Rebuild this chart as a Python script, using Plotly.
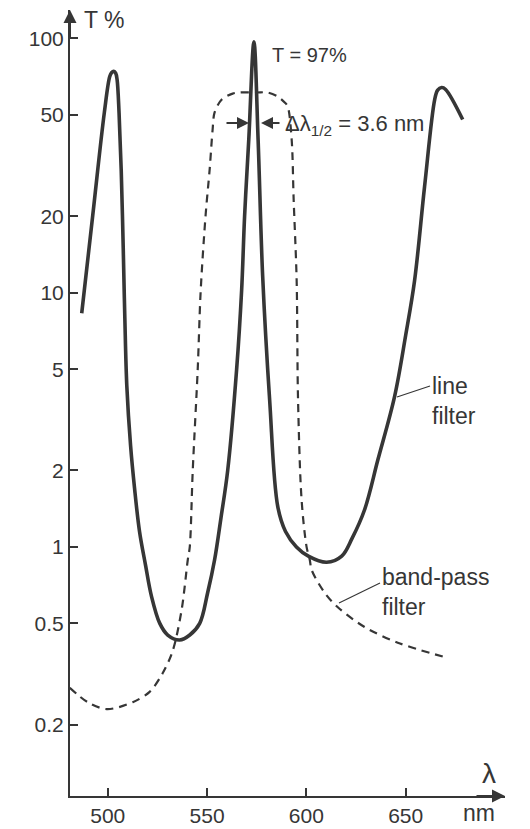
import plotly.graph_objects as go

# Transmission spectra (wavelength in nm, transmission in %)
line_filter_nm = [486.9, 492.5, 498.3, 501.0, 502.0, 503.0, 504.0, 504.7, 505.7,
                  506.8, 507.8, 508.6, 509.6, 511.5, 513.5, 516.0, 519.0, 522.0, 526.2,
                  530.2, 536.2, 541.3, 546.3, 550.3, 553.8, 557.0, 560.4, 564.9, 567.4,
                  568.9, 571.0, 573.6, 575.7, 578.0, 581.5, 585.6, 589.5, 595.0, 601.0,
                  610.2, 617.8, 623.0, 629.3, 636.0, 644.4, 650.0, 654.5, 659.5, 664.6,
                  666.1, 668.1, 670.1, 678.7]
line_filter_T = [8.3, 20.3, 51.2, 70.8, 73.5, 74.3, 73.0, 69.0, 51.0,
                 30.0, 15.0, 8.0, 4.3, 2.5, 1.7, 1.15, 0.85, 0.64, 0.50,
                 0.45, 0.43, 0.45, 0.50, 0.66, 0.89, 1.3, 2.0, 5.0, 10.2,
                 20.0, 40.0, 97.0, 40.0, 11.6, 3.8, 1.44, 1.15, 1.0, 0.92,
                 0.87, 0.92, 1.08, 1.4, 2.2, 3.9, 6.8, 11.2, 26.1, 57.5,
                 62.6, 64.1, 63.0, 48.0]

band_pass_nm = [480.9, 489.9, 499.5, 512.6, 521.1, 527.7, 532.7, 537.2, 540.3, 541.3,
                542.8, 545.3, 546.8, 549.3, 551.3, 552.8, 553.8, 557.4, 562.9, 566.4,
                575.0, 580.5, 585.6, 589.1, 590.6, 592.6, 593.6, 595.1, 595.8, 597.6,
                600.1, 601.7, 602.7, 609.2, 615.7, 629.3, 646.0, 671.0]
band_pass_T = [0.279, 0.245, 0.230, 0.245, 0.269, 0.319, 0.39, 0.565, 0.89, 1.0,
               2.0, 5.0, 10.2, 20.3, 30.5, 43.8, 51.2, 57.5, 60.7, 61.3,
               61.3, 61.3, 59.1, 56.0, 54.0, 40.0, 23.2, 11.2, 3.8, 1.53,
               1.0, 0.89, 0.81, 0.66, 0.58, 0.484, 0.42, 0.366]

x_ticks = [500, 550, 600, 650]
y_ticks = [0.2, 0.5, 1, 2, 5, 10, 20, 50, 100]
y_tick_text = ["0.2", "0.5", "1", "2", "5", "10", "20", "50", "100"]

INK = "#363636"
FONT = "Liberation Sans"
W, H = 530, 829
ML, MR, MT, MB = 70, 25, 10, 33


def px(x):
    return (x - ML) / (W - ML - MR)


def py(y):
    return (H - MB - y) / (H - MT - MB)


fig = go.Figure()
fig.add_trace(go.Scatter(
    x=band_pass_nm, y=band_pass_T, mode="lines",
    line=dict(color=INK, width=2.2, dash="8px,6px", shape="spline", smoothing=0.9),
    hoverinfo="skip", showlegend=False))
fig.add_trace(go.Scatter(
    x=line_filter_nm, y=line_filter_T, mode="lines",
    line=dict(color=INK, width=3.6, shape="spline", smoothing=1.0),
    hoverinfo="skip", showlegend=False))

axis_common = dict(showline=True, linecolor=INK, linewidth=2, ticks="inside",
                   ticklen=8, tickwidth=2, tickcolor=INK, showgrid=False,
                   zeroline=False, tickfont=dict(family=FONT, size=21, color=INK),
                   automargin=False)
fig.update_xaxes(range=[481, 700], tickvals=x_ticks, **axis_common)
fig.update_yaxes(type="log", range=[-0.98, 2.112], tickvals=y_ticks,
                 ticktext=y_tick_text, **axis_common)

ann = []
# axis arrowheads
ann.append(dict(xref="paper", yref="paper", x=0, y=1, ax=0, ay=30, text="",
                showarrow=True, arrowhead=2, arrowsize=1.3, arrowwidth=2, arrowcolor=INK))
ann.append(dict(xref="paper", yref="paper", x=1, y=0, ax=-30, ay=0, text="",
                showarrow=True, arrowhead=2, arrowsize=1.3, arrowwidth=2, arrowcolor=INK))
# half-width arrows
ann.append(dict(xref="paper", yref="paper", x=px(249), y=py(123), ax=-24, ay=0, text="",
                showarrow=True, arrowhead=2, arrowsize=1.2, arrowwidth=2, arrowcolor=INK))
ann.append(dict(xref="paper", yref="paper", x=px(261), y=py(123), ax=20, ay=0, text="",
                showarrow=True, arrowhead=2, arrowsize=1.2, arrowwidth=2, arrowcolor=INK))


def label(text, x, y, size=21, xanchor="left", yanchor="middle", align="left"):
    ann.append(dict(xref="paper", yref="paper", x=px(x), y=py(y), text=text,
                    showarrow=False, xanchor=xanchor, yanchor=yanchor, align=align,
                    font=dict(family=FONT, size=size, color=INK)))


label("T %", 82, 20, size=23)
label("T = 97%", 270, 55, size=20)
label("Δλ<sub>1/2</sub> = 3.6 nm", 283, 125, size=22)
label("line<br>filter", 430, 401, size=23)
label("band-pass<br>filter", 380, 592, size=23)
label("λ", 489, 773, size=28, xanchor="center")
label("nm", 479, 813, size=23, xanchor="center")

fig.update_layout(
    width=W, height=H, margin=dict(l=ML, r=MR, t=MT, b=MB),
    paper_bgcolor="white", plot_bgcolor="white", annotations=ann,
    shapes=[
        dict(type="line", xref="paper", yref="paper", x0=px(397), y0=py(397),
             x1=px(430), y1=py(386), line=dict(color=INK, width=1.2)),
        dict(type="line", xref="paper", yref="paper", x0=px(339), y0=py(603),
             x1=px(380), y1=py(583), line=dict(color=INK, width=1.2)),
    ],
)
fig.write_html("out.html")
